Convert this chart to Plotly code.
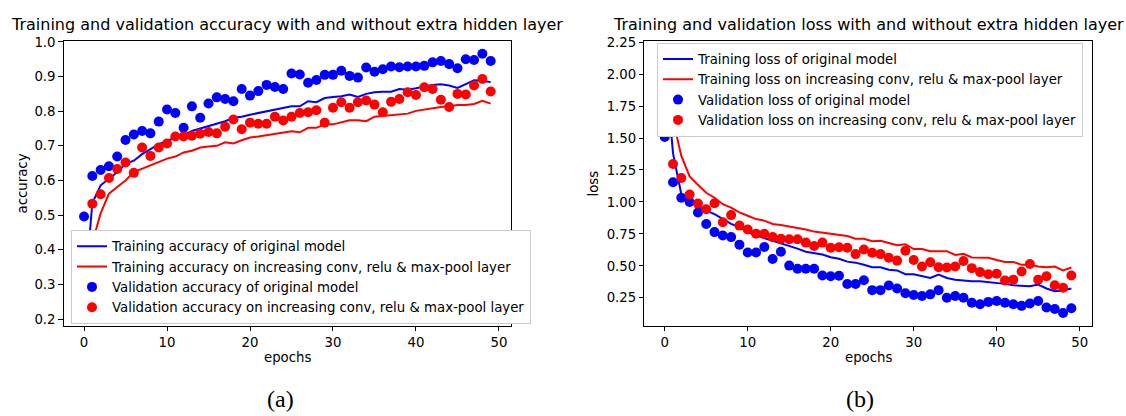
import plotly.graph_objects as go

epochs = list(range(50))

acc_train_orig = [0.25, 0.535, 0.586, 0.605, 0.624, 0.648, 0.657, 0.676, 0.69, 0.705,
                  0.714, 0.724, 0.731, 0.743, 0.75, 0.757, 0.764, 0.771, 0.781, 0.784,
                  0.79, 0.795, 0.8, 0.805, 0.808, 0.814, 0.814, 0.829, 0.826, 0.838,
                  0.841, 0.843, 0.848, 0.841, 0.85, 0.855, 0.856, 0.856, 0.864, 0.862,
                  0.866, 0.871, 0.876, 0.878, 0.874, 0.867, 0.879, 0.889, 0.888, 0.884]
acc_train_new = [0.217, 0.42, 0.505, 0.562, 0.581, 0.60, 0.624, 0.634, 0.643, 0.655,
                 0.663, 0.669, 0.681, 0.686, 0.695, 0.698, 0.70, 0.71, 0.707, 0.716,
                 0.724, 0.727, 0.731, 0.733, 0.738, 0.742, 0.739, 0.752, 0.752, 0.762,
                 0.762, 0.767, 0.774, 0.774, 0.771, 0.784, 0.786, 0.79, 0.79, 0.793,
                 0.801, 0.805, 0.808, 0.812, 0.814, 0.818, 0.818, 0.821, 0.830, 0.822]
acc_val_orig = [0.496, 0.613, 0.630, 0.641, 0.669, 0.717, 0.733, 0.743, 0.736, 0.770,
                0.805, 0.795, 0.752, 0.814, 0.781, 0.822, 0.840, 0.835, 0.829, 0.864,
                0.845, 0.858, 0.876, 0.870, 0.864, 0.909, 0.906, 0.882, 0.890, 0.905,
                0.905, 0.917, 0.902, 0.897, 0.926, 0.914, 0.921, 0.929, 0.927, 0.929,
                0.929, 0.931, 0.941, 0.945, 0.936, 0.924, 0.950, 0.948, 0.966, 0.945]
acc_val_new = [0.30, 0.533, 0.560, 0.607, 0.633, 0.652, 0.622, 0.695, 0.671, 0.695,
               0.707, 0.727, 0.727, 0.729, 0.735, 0.740, 0.736, 0.755, 0.776, 0.748,
               0.767, 0.764, 0.764, 0.784, 0.773, 0.784, 0.795, 0.797, 0.803, 0.767,
               0.810, 0.826, 0.810, 0.826, 0.831, 0.819, 0.797, 0.827, 0.835, 0.855,
               0.847, 0.869, 0.864, 0.833, 0.812, 0.850, 0.848, 0.874, 0.893, 0.857]

loss_train_orig = [2.12, 1.38, 1.06, 1.02, 0.969, 0.931, 0.905, 0.866, 0.828, 0.802,
                   0.764, 0.738, 0.718, 0.692, 0.674, 0.654, 0.635, 0.61, 0.597, 0.589,
                   0.568, 0.556, 0.533, 0.525, 0.508, 0.489, 0.489, 0.469, 0.464, 0.435,
                   0.435, 0.418, 0.405, 0.431, 0.405, 0.392, 0.385, 0.379, 0.379, 0.374,
                   0.366, 0.359, 0.348, 0.343, 0.341, 0.354, 0.323, 0.302, 0.308, 0.323]
loss_train_new = [2.16, 1.64, 1.36, 1.2, 1.135, 1.072, 1.033, 0.982, 0.956, 0.918,
                  0.892, 0.866, 0.854, 0.828, 0.82, 0.81, 0.795, 0.785, 0.768, 0.759,
                  0.755, 0.743, 0.733, 0.712, 0.712, 0.692, 0.697, 0.679, 0.661, 0.669,
                  0.631, 0.631, 0.615, 0.615, 0.615, 0.585, 0.595, 0.566, 0.564, 0.564,
                  0.546, 0.531, 0.531, 0.508, 0.508, 0.495, 0.49, 0.495, 0.464, 0.487]
loss_val_orig = [1.508, 1.154, 1.033, 1.0, 0.918, 0.828, 0.764, 0.738, 0.725, 0.666,
                 0.605, 0.605, 0.648, 0.554, 0.61, 0.502, 0.477, 0.477, 0.477, 0.425,
                 0.418, 0.423, 0.358, 0.358, 0.387, 0.31, 0.31, 0.346, 0.323, 0.285,
                 0.272, 0.264, 0.277, 0.31, 0.251, 0.264, 0.251, 0.212, 0.2, 0.218,
                 0.225, 0.212, 0.2, 0.187, 0.205, 0.225, 0.174, 0.162, 0.131, 0.169]
loss_val_new = [1.80, 1.297, 1.187, 1.058, 0.987, 0.943, 0.99, 0.841, 0.897, 0.815,
                0.785, 0.751, 0.751, 0.725, 0.712, 0.708, 0.708, 0.682, 0.656, 0.682,
                0.641, 0.645, 0.641, 0.592, 0.628, 0.602, 0.592, 0.564, 0.541, 0.618,
                0.546, 0.495, 0.528, 0.489, 0.487, 0.495, 0.538, 0.482, 0.451, 0.435,
                0.438, 0.385, 0.392, 0.456, 0.515, 0.392, 0.418, 0.348, 0.328, 0.425]

acc_names = ["Training accuracy of original model",
             "Training accuracy on increasing conv, relu & max-pool layer",
             "Validation accuracy of original model",
             "Validation accuracy on increasing conv, relu & max-pool layer"]
loss_names = ["Training loss of original model",
              "Training loss on increasing conv, relu & max-pool layer",
              "Validation loss of original model",
              "Validation loss on increasing conv, relu & max-pool layer"]

BLUE = "#0000ff"
RED = "#ff0000"
FONT = "DejaVu Sans"
W, H = 1126, 416

fig = go.Figure()

def add_panel(xa, ya, leg, names, tr_o, tr_n, va_o, va_n):
    fig.add_trace(go.Scatter(x=epochs, y=tr_o, mode="lines", name=names[0],
                             line=dict(color=BLUE, width=2), xaxis=xa, yaxis=ya, legend=leg))
    fig.add_trace(go.Scatter(x=epochs, y=tr_n, mode="lines", name=names[1],
                             line=dict(color=RED, width=2), xaxis=xa, yaxis=ya, legend=leg))
    fig.add_trace(go.Scatter(x=epochs, y=va_o, mode="markers", name=names[2],
                             marker=dict(color=BLUE, size=10), xaxis=xa, yaxis=ya, legend=leg))
    fig.add_trace(go.Scatter(x=epochs, y=va_n, mode="markers", name=names[3],
                             marker=dict(color=RED, size=10), xaxis=xa, yaxis=ya, legend=leg))

add_panel("x", "y", "legend", acc_names, acc_train_orig, acc_train_new, acc_val_orig, acc_val_new)
add_panel("x2", "y2", "legend2", loss_names, loss_train_orig, loss_train_new, loss_val_orig, loss_val_new)

ydom = [1 - 325.4 / H, 1 - 35.5 / H]
axis_common = dict(showline=True, mirror=True, linecolor="black", linewidth=1,
                   ticks="outside", ticklen=4.5, tickwidth=1, tickcolor="black",
                   showgrid=False, zeroline=False,
                   tickfont=dict(family=FONT, size=13.3, color="black"))

legend_common = dict(font=dict(family=FONT, size=13.3, color="black"),
                     bgcolor="white", bordercolor="#cccccc", borderwidth=1,
                     xanchor="left", yanchor="top", tracegroupgap=0)

fig.update_layout(
    width=W, height=H,
    margin=dict(l=0, r=0, t=0, b=0),
    paper_bgcolor="white", plot_bgcolor="white",
    xaxis=dict(domain=[63.7 / W, 511 / W], range=[-2.45, 51.45], anchor="y",
               tickvals=[0, 10, 20, 30, 40, 50], **axis_common),
    yaxis=dict(domain=ydom, range=[0.180, 1.003], anchor="x",
               tickvals=[0.2, 0.3, 0.4, 0.5, 0.6, 0.7, 0.8, 0.9, 1.0], tickformat=".1f",
               **axis_common),
    xaxis2=dict(domain=[644.4 / W, 1091.7 / W], range=[-2.45, 51.45], anchor="y2",
                tickvals=[0, 10, 20, 30, 40, 50], **axis_common),
    yaxis2=dict(domain=ydom, range=[0.030, 2.26], anchor="x2",
                tickvals=[0.25, 0.5, 0.75, 1.0, 1.25, 1.5, 1.75, 2.0, 2.25], tickformat=".2f",
                **axis_common),
    legend=dict(x=71 / W, y=1 - 228 / H, **legend_common),
    legend2=dict(x=657 / W, y=1 - 37.5 / H, **legend_common),
    showlegend=True,
)

def ann(text, x, y, size=13.3, angle=0, family=FONT):
    fig.add_annotation(text=text, x=x / W, y=1 - y / H, xref="paper", yref="paper",
                       showarrow=False, xanchor="center", yanchor="middle",
                       textangle=angle, font=dict(family=family, size=size, color="black"))

ann("Training and validation accuracy with and without extra hidden layer", 287.4, 19, size=16)
ann("Training and validation loss with and without extra hidden layer", 868, 19, size=16)
ann("accuracy", 22, 180.5, angle=-90)
ann("loss", 593, 180.5, angle=-90)
ann("epochs", 287.4, 358)
ann("epochs", 868, 358)
ann("(a)", 280, 400, size=24, family="Liberation Serif")
ann("(b)", 860, 400, size=24, family="Liberation Serif")

fig.write_html("out.html")
